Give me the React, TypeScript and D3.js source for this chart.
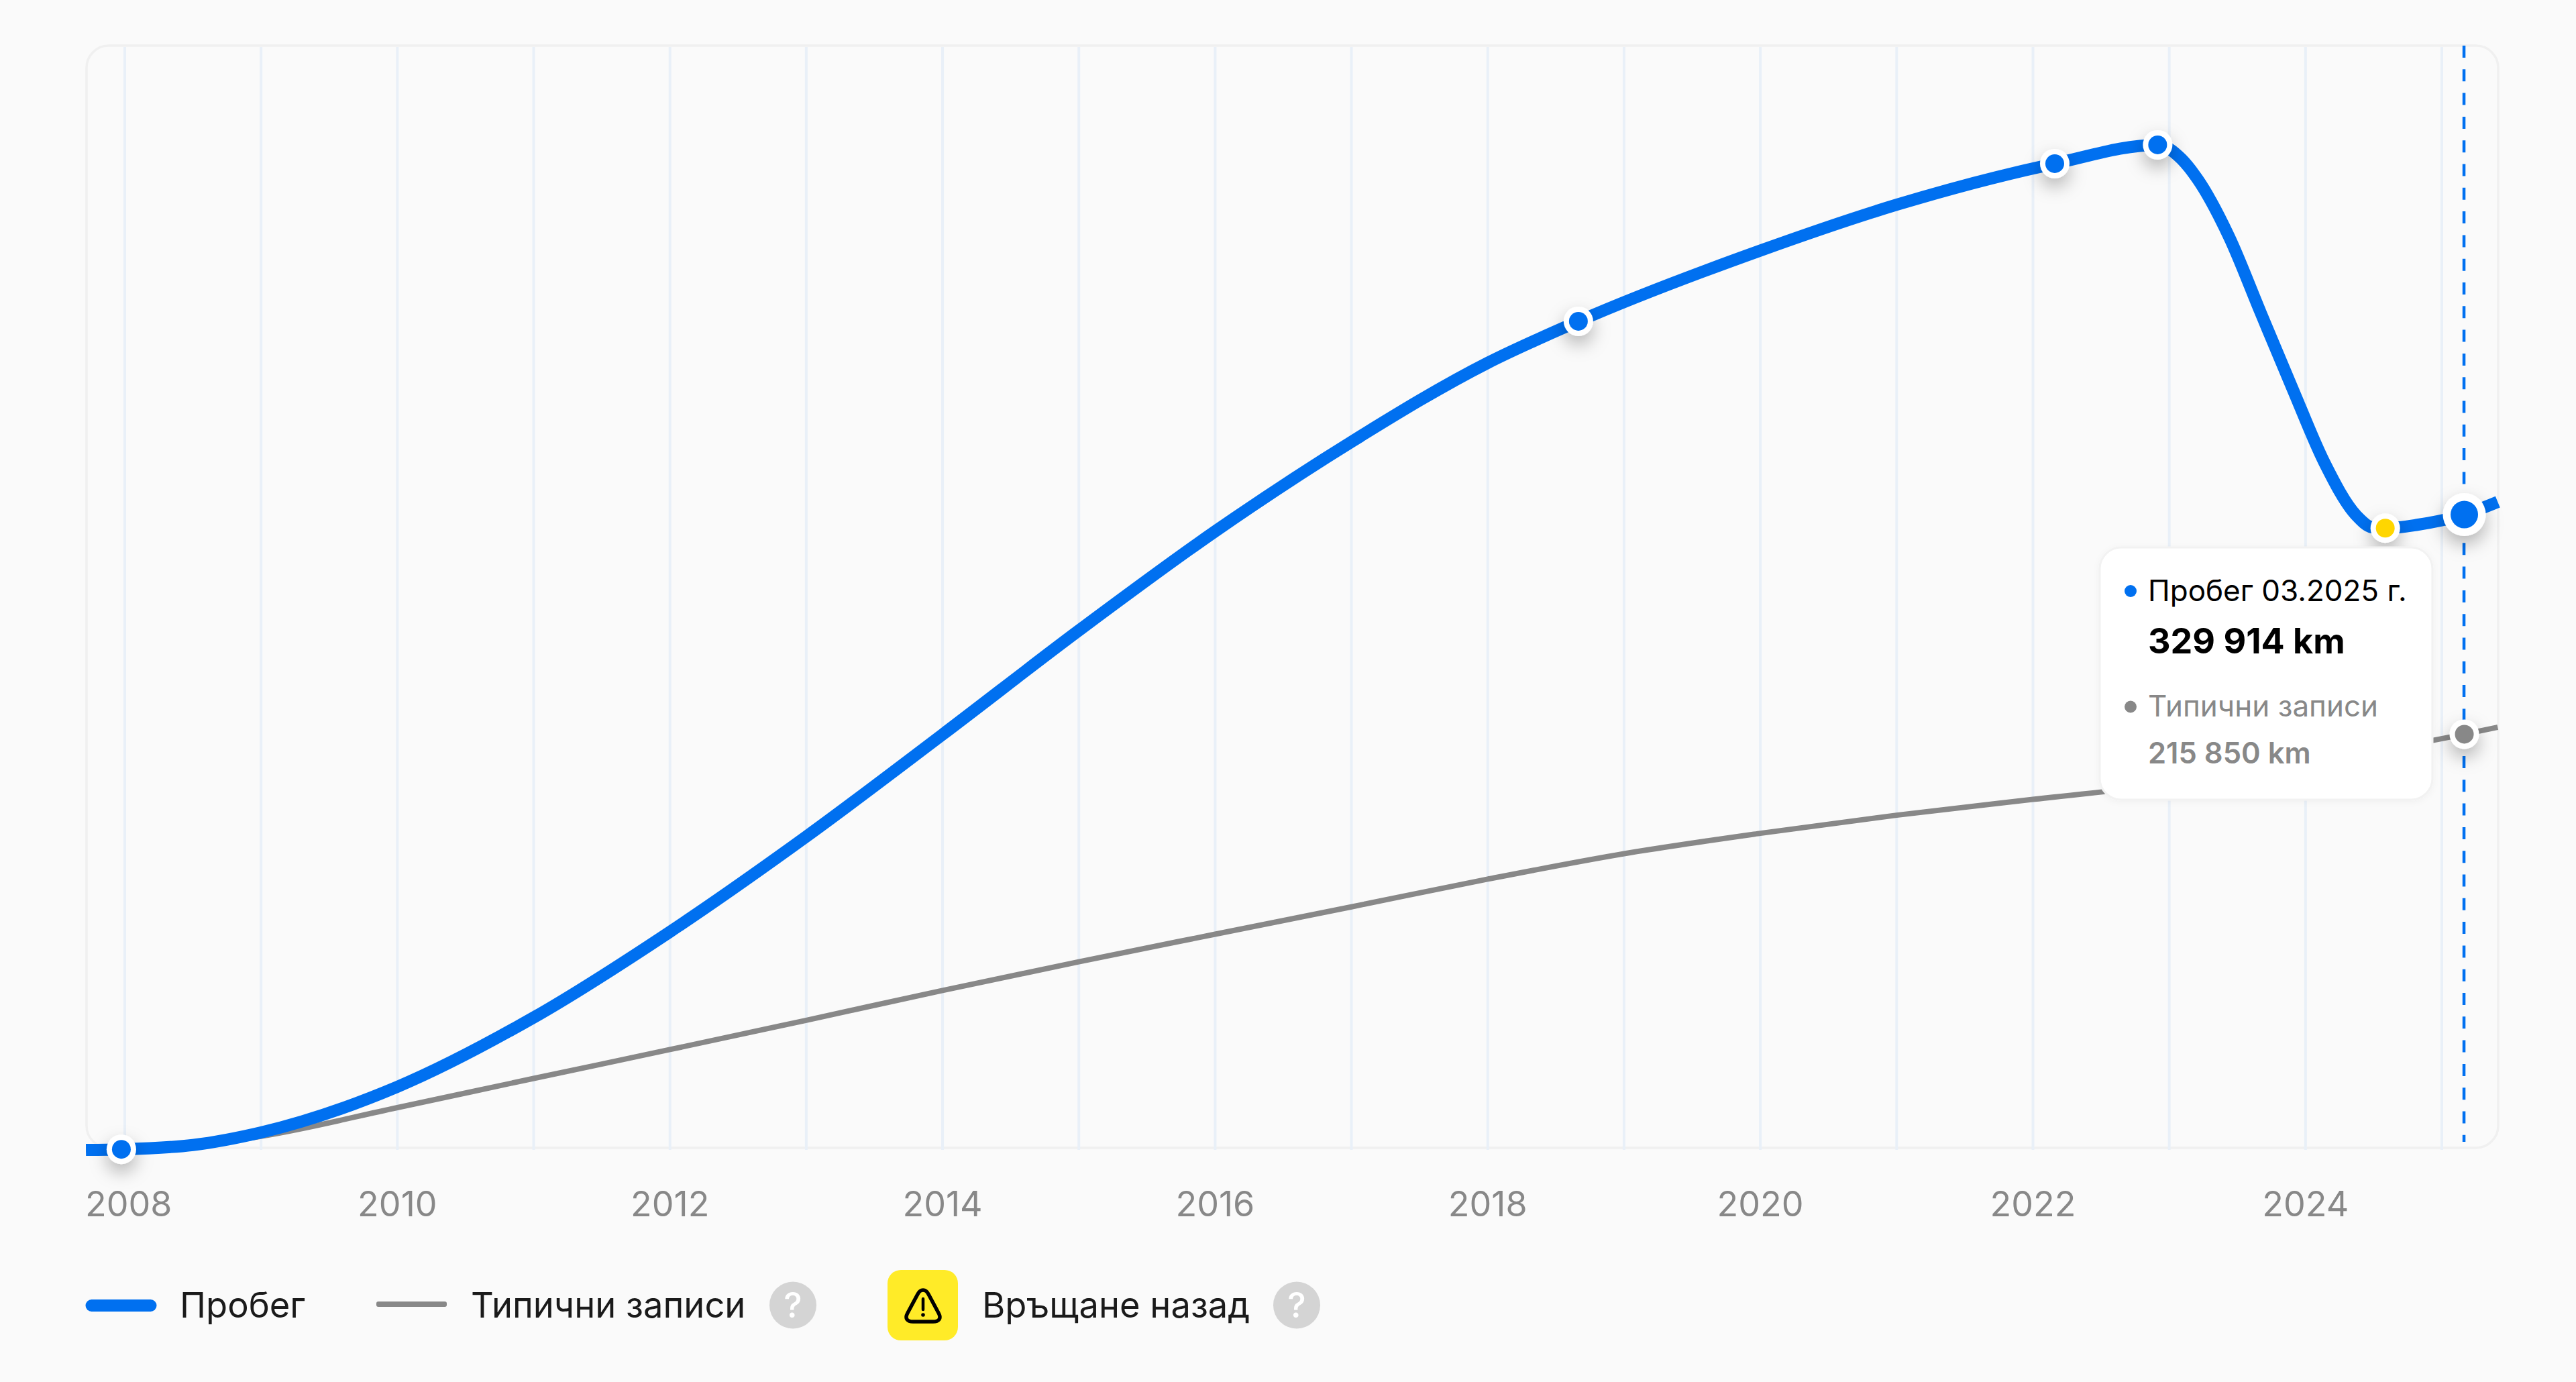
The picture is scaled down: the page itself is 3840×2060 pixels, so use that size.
// App.tsx
import React from "react";
import * as d3 from "d3";

const mileageYears = [
	2007.715, 2007.975, 2008.5, 2009, 2010, 2011, 2012, 2013, 2014, 2015, 2016, 2017, 2018, 2018.665, 2020,
	2021, 2022.16, 2022.915, 2023.09, 2023.21, 2023.44, 2023.67, 2023.91, 2024.14, 2024.37, 2024.49, 2024.585,
	2024.82, 2025.165, 2025.41,
];
const mileageValues = [
	0, 300, 2540, 9060, 32760, 68760, 113260, 162700, 215700, 269700, 321200, 367700, 408700, 430270, 467000,
	490800, 512150, 521900, 514550, 503860, 474000, 434900, 394390, 356690, 329660, 323280, 322860,
	324600, 329914, 336480,
];

const typicalYears = [
	2007.715, 2007.975, 2008.5, 2009, 2010, 2011, 2012, 2013, 2014, 2015, 2016, 2017, 2018, 2019,
	2020, 2021, 2022, 2023, 2024, 2025.165, 2025.41,
];
const typicalValues = [
	0, 300, 2260, 7070, 21950, 37100, 52100, 67300, 82800, 97700, 112000, 126200, 140600, 153800,
	164400, 173800, 182000, 190000, 201000, 215850, 219490,
];

const gridYears = d3.range(2008, 2026);
const tickYears = d3.range(2008, 2025, 2);

const mileageMarkerYears = [2007.975, 2018.665, 2022.16, 2022.915];
const mileageMarkerValues = [300, 430270, 512150, 521900];
const rollbackYear = 2024.585;
const rollbackValue = 322860;
const currentYear = 2025.165;
const currentMileage = 329914;
const currentTypical = 215850;

const BLUE = "#0070f0";
const GRAY = "#888888";
const FONT = "Inter, sans-serif";

const x = d3.scaleLinear().domain([2008, 2025]).range([186, 3640]);
const y = d3.scaleLinear().domain([0, 329914]).range([1714, 767]);

const lineGen = d3
	.line<number>()
	.x((d) => x(d))
	.curve(d3.curveMonotoneX);

const mileagePath = lineGen.y((_, i) => y(mileageValues[i]))(mileageYears) as string;
const typicalPath = lineGen.y((_, i) => y(typicalValues[i]))(typicalYears) as string;

const Marker = ({ cx, cy, r = 22, inner = 14, fill = BLUE }: any) => (
	<g filter="url(#markerShadow)">
		<circle cx={cx} cy={cy} r={r} fill="#fff" />
		<circle cx={cx} cy={cy} r={inner} fill={fill} />
	</g>
);

const HelpIcon = ({ cx }: { cx: number }) => (
	<g>
		<circle cx={cx} cy={1945.5} r={35} fill="#d4d4d4" />
		<text x={cx} y={1964} textAnchor="middle" fontSize={52} fontWeight={500} fill="#fff">
			?
		</text>
	</g>
);

export default function App() {
	return (
		<svg
			width={3840}
			height={2060}
			style={{ position: "absolute", left: 0, top: 0, display: "block" }}
			fontFamily={FONT}
		>
			<defs>
				<filter id="markerShadow" x="-150%" y="-150%" width="400%" height="400%">
					<feDropShadow dx="0" dy="12" stdDeviation="13" floodColor="#000" floodOpacity="0.28" />
				</filter>
				<filter id="tooltipShadow" x="-10%" y="-10%" width="120%" height="120%">
					<feDropShadow dx="0" dy="2" stdDeviation="5" floodColor="#000" floodOpacity="0.04" />
				</filter>
			</defs>
			<rect width={3840} height={2060} fill="#fafafa" />
			<rect x={129} y={68} width={3595} height={1643} rx={33} fill="none" stroke="#f0f0f0" strokeWidth={3.5} />

			{gridYears.map((yr) => (
				<line key={yr} x1={x(yr)} x2={x(yr)} y1={70} y2={1714} stroke="#e9f0f8" strokeWidth={4} />
			))}

			<line
				x1={x(currentYear) - 0.5}
				x2={x(currentYear) - 0.5}
				y1={68}
				y2={1702}
				stroke={BLUE}
				strokeWidth={4.5}
				strokeDasharray="18 17.3"
			/>

			<path d={typicalPath} fill="none" stroke={GRAY} strokeWidth={8} />
			<path d={mileagePath} fill="none" stroke={BLUE} strokeWidth={18} />

			{mileageMarkerYears.map((yr, i) => (
				<Marker key={yr} cx={x(yr)} cy={y(mileageMarkerValues[i])} />
			))}
			<Marker cx={x(rollbackYear)} cy={y(rollbackValue)} fill="#ffd600" />
			<Marker cx={x(currentYear)} cy={y(currentMileage)} r={32} inner={20.5} />
			<Marker cx={x(currentYear)} cy={y(currentTypical)} fill={GRAY} />

			{tickYears.map((yr, i) => (
				<text
					key={yr}
					x={i === 0 ? 127 : x(yr)}
					y={1813}
					textAnchor={i === 0 ? "start" : "middle"}
					fontSize={52}
					fill={GRAY}
				>
					{yr}
				</text>
			))}

			<g filter="url(#tooltipShadow)">
				<rect x={3130} y={816} width={496} height={376} rx={32} fill="#fff" stroke="#f2f2f2" strokeWidth={3} />
			</g>
			<circle cx={3176} cy={881} r={9} fill={BLUE} />
			<text x={3202} y={896} fontSize={44} fill="#000">
				Пробег 03.2025 г.
			</text>
			<text x={3202} y={974} fontSize={52} fontWeight={700} fill="#000">
				329 914 km
			</text>
			<circle cx={3176} cy={1053.5} r={9} fill={GRAY} />
			<text x={3202} y={1068} fontSize={44} fill={GRAY}>
				Типични записи
			</text>
			<text x={3202} y={1138} fontSize={43.5} fontWeight={600} fill={GRAY}>
				215 850 km
			</text>

			<rect x={127.5} y={1937} width={106} height={18} rx={9} fill={BLUE} />
			<text x={268} y={1964} fontSize={52.5} fill="#1a1a1a">
				Пробег
			</text>
			<rect x={561} y={1940} width={105} height={8} rx={3} fill={GRAY} />
			<text x={702} y={1964} fontSize={52.5} fill="#1a1a1a">
				Типични записи
			</text>
			<HelpIcon cx={1182} />
			<rect x={1323} y={1893} width={105} height={105} rx={20} fill="#ffeb28" />
			<path
				d="M1376 1923 C1372 1923 1370 1925 1368 1929 L1353 1957 C1348 1966 1353 1970 1361 1970 L1391 1970 C1399 1970 1404 1966 1399 1957 L1384 1929 C1382 1925 1380 1923 1376 1923 Z"
				fill="none"
				stroke="#000"
				strokeWidth={5.5}
			/>
			<line x1={1376} x2={1376} y1={1936} y2={1952} stroke="#000" strokeWidth={4.5} strokeLinecap="round" />
			<circle cx={1376} cy={1960} r={2.8} fill="#000" />
			<text x={1464} y={1964} fontSize={52.5} fill="#1a1a1a">
				Връщане назад
			</text>
			<HelpIcon cx={1933} />
		</svg>
	);
}
